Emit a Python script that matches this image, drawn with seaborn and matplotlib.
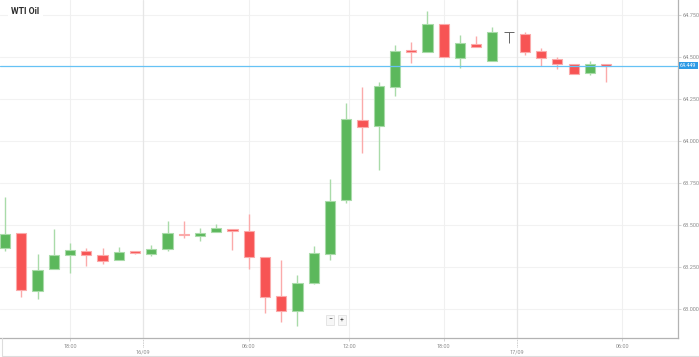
import matplotlib
matplotlib.use("Agg")
import matplotlib.pyplot as plt
import seaborn as sns
import pandas as pd
from matplotlib.lines import Line2D

# OHLC values (one candle per hour, index-spaced)
opens = [63.361, 63.451, 63.107, 63.238, 63.320, 63.347, 63.320, 63.293, 63.347, 63.327,
         63.359, 63.448, 63.436, 63.458, 63.478, 63.461, 63.308, 63.077, 62.988, 63.157,
         63.327, 63.649, 64.125, 64.089, 64.323, 64.543, 64.532, 64.696, 64.492, 64.579,
         64.474, 64.647, 64.639, 64.538, 64.488, 64.457, 64.405, 64.458]
highs = [63.668, 63.451, 63.326, 63.474, 63.395, 63.365, 63.363, 63.369, 63.347, 63.383,
         63.524, 63.524, 63.484, 63.504, 63.478, 63.564, 63.308, 63.292, 63.202, 63.375,
         63.774, 64.228, 64.320, 64.349, 64.570, 64.588, 64.772, 64.696, 64.631, 64.625,
         64.680, 64.647, 64.651, 64.552, 64.502, 64.457, 64.474, 64.458]
lows = [63.345, 63.073, 63.058, 63.238, 63.216, 63.256, 63.266, 63.293, 63.326, 63.314,
        63.343, 63.421, 63.407, 63.458, 63.349, 63.236, 62.974, 62.924, 62.901, 63.149,
        63.292, 63.629, 63.930, 63.827, 64.270, 64.462, 64.532, 64.498, 64.433, 64.558,
        64.474, 64.582, 64.512, 64.448, 64.430, 64.401, 64.393, 64.353]
closes = [63.445, 63.113, 63.232, 63.321, 63.353, 63.323, 63.288, 63.341, 63.335, 63.355,
          63.454, 63.440, 63.454, 63.480, 63.466, 63.311, 63.070, 62.990, 63.153, 63.335,
          63.645, 64.131, 64.085, 64.327, 64.538, 64.528, 64.698, 64.498, 64.585, 64.558,
          64.649, 64.647, 64.532, 64.496, 64.460, 64.401, 64.458, 64.449]

last_price = 64.449
y_ticks = [63.0, 63.25, 63.5, 63.75, 64.0, 64.25, 64.5, 64.75]
x_tick_pos = [4, 15, 21.2, 27, 38]
x_tick_labels = ["18:00", "06:00", "12:00", "18:00", "06:00"]
date_pos = [8.5, 31.5]
date_labels = ["16/09", "17/09"]

df = pd.DataFrame({"open": opens, "high": highs, "low": lows, "close": closes})
df["idx"] = range(len(df))
df["bottom"] = df[["open", "close"]].min(axis=1)
df["height"] = (df["close"] - df["open"]).abs().clip(lower=0.008)

GREEN, GREEN_L = "#5cb85c", "#a9dba9"
RED, RED_L = "#f75454", "#fbaaaa"
DOJI = "#666666"

sns.set_theme(style="white")
plt.rcParams["font.family"] = ["Roboto", "DejaVu Sans"]

fig = plt.figure(figsize=(6.99, 3.57), dpi=100)
ax = fig.add_axes([0, 19 / 357, 678 / 699, 338 / 357])

# grid
for y in y_ticks:
    ax.axhline(y, color="#f2f2f2", lw=0.8, zorder=0)
for x in x_tick_pos:
    ax.axvline(x, color="#f0f0f0", lw=0.8, zorder=0)
for x in date_pos:
    ax.axvline(x, color="#e6e6e6", lw=0.9, zorder=0)

for _, r in df.iterrows():
    if r["close"] > r["open"]:
        c, cl = GREEN, GREEN_L
    elif r["close"] < r["open"]:
        c, cl = RED, RED_L
    else:
        c, cl = DOJI, DOJI
    if c == DOJI:
        ax.hlines(r["open"], r["idx"] - 0.31, r["idx"] + 0.31, color=c, lw=0.7, zorder=3)
        ax.vlines(r["idx"], r["low"], r["high"], color=c, lw=0.7, zorder=3)
    else:
        ax.vlines(r["idx"], r["low"], r["high"], color=cl, lw=1.0, zorder=2)
        ax.bar(r["idx"], r["height"], bottom=r["bottom"], width=0.62, color=c,
               edgecolor=cl, linewidth=0.8, zorder=3)

# last price line
ax.axhline(last_price, color="#66c2f5", lw=0.9, zorder=4)

ax.set_xlim(-0.31, 41.42)
ax.set_ylim(62.827, 64.839)
ax.yaxis.tick_right()
ax.set_yticks(y_ticks)
ax.set_yticklabels([f"{v:.3f}" for v in y_ticks])
ax.set_xticks(x_tick_pos)
ax.set_xticklabels(x_tick_labels)
ax.tick_params(axis="y", labelsize=4, colors="#cccccc", labelcolor="#8c8c8c",
               length=2, width=0.6, pad=1.5, right=True)
ax.tick_params(axis="x", labelsize=4, colors="#cccccc", labelcolor="#8c8c8c",
               length=2, width=0.6, pad=2, bottom=True)
for s in ["left", "top"]:
    ax.spines[s].set_visible(False)
for s in ["right", "bottom"]:
    ax.spines[s].set_color("#b3b3b3")
    ax.spines[s].set_linewidth(0.9)

for x, lab in zip(date_pos, date_labels):
    ax.vlines(x, 62.827 - 0.055, 62.827, color="#bbbbbb", lw=0.6, ls=(0, (1, 1)),
              clip_on=False)
    ax.text(x, 62.827 - 0.082, lab, ha="center", va="center", fontsize=4,
            color="#8c8c8c")

# last price label
ax.text(1.003, (last_price - 62.827) / (64.839 - 62.827), f"{last_price:.3f}",
        transform=ax.transAxes, ha="left", va="center", fontsize=3.8, color="white",
        bbox=dict(boxstyle="square,pad=0.25", fc="#2e9be6", ec="none"), zorder=6)

# title
ax.text(11 / 678, 1 - 11 / 338, "WTI Oil", transform=ax.transAxes, ha="left",
        va="center", fontsize=6.3, fontweight="bold", color="#2b2b2b",
        bbox=dict(boxstyle="square,pad=0.4", fc="white", ec="none"), zorder=6)

# zoom buttons
ax.text(20.0, 62.935, "\u2212", ha="center", va="center", fontsize=5, color="#444444",
        bbox=dict(boxstyle="square,pad=0.25", fc="#f7f7f7", ec="#dddddd", lw=0.5), zorder=6)
ax.text(20.75, 62.935, "+", ha="center", va="center", fontsize=5, color="#444444",
        bbox=dict(boxstyle="square,pad=0.25", fc="#f7f7f7", ec="#dddddd", lw=0.5), zorder=6)

# frame around x-axis strip
fig.add_artist(Line2D([2 / 699, 2 / 699], [1 / 357, 19 / 357], color="#dddddd", lw=0.8))
fig.add_artist(Line2D([2 / 699, 1], [1 / 357, 1 / 357], color="#dddddd", lw=0.8))

fig.savefig("out.png", dpi=100)
